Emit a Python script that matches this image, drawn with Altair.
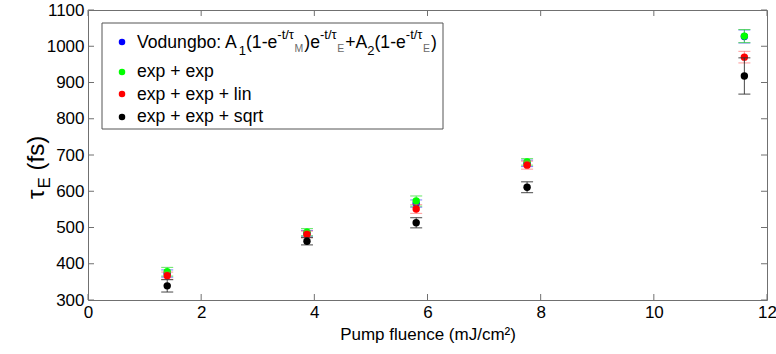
import altair as alt
import pandas as pd

# ---- data ----
fluence = [1.40, 3.87, 5.80, 7.76, 11.60]
series_names = ["Vodungbo", "exp + exp", "exp + exp + lin", "exp + exp + sqrt"]
vodungbo = [373, 484, 566, 677, 1027]
vodungbo_err = [10, 8, 10, 9, 18]
exp_exp = [378, 487, 573, 681, 1028]
exp_exp_err = [12, 10, 14, 9, 18]
exp_lin = [367, 481, 551, 672, 970]
exp_lin_err = [10, 9, 12, 11, 16]
exp_sqrt = [339, 462, 513, 611, 918]
exp_sqrt_err = [17, 10, 14, 15, 50]
x_ticks = [0, 2, 4, 6, 8, 10, 12]
y_ticks = [300, 400, 500, 600, 700, 800, 900, 1000, 1100]

colors = ["#0000ff", "#00ff00", "#ff0000", "#000000"]
bar_colors = ["#4d4dff", "#33dd33", "#ff5555", "#333333"]
bar_opacity = [0.75, 0.75, 0.6, 0.9]

values = [vodungbo, exp_exp, exp_lin, exp_sqrt]
errors = [vodungbo_err, exp_exp_err, exp_lin_err, exp_sqrt_err]
rows = []
for name, vals, errs in zip(series_names, values, errors):
    for f, v, e in zip(fluence, vals, errs):
        rows.append({"series": name, "fluence": f, "tau": v, "lo": v - e, "hi": v + e})
df = pd.DataFrame(rows)

W, H = 679, 290
FONT = "Liberation Sans"
FRAME = "#707070"

xs = alt.Scale(domain=[0, 12], nice=False, zero=False)
ys = alt.Scale(domain=[300, 1100], nice=False, zero=False)
xaxis = alt.Axis(values=x_ticks, format="d", title="Pump fluence (mJ/cm²)")
yaxis = alt.Axis(values=y_ticks, format="d", title=None)


def X(field):
    return alt.X(field, type="quantitative", scale=xs, axis=xaxis)


def Y(field):
    return alt.Y(field, type="quantitative", scale=ys, axis=yaxis)


base = alt.Chart(df)
layers = []
for i, name in enumerate(series_names):
    s = base.transform_filter(alt.datum.series == name)
    bar = s.mark_rule(color=bar_colors[i], opacity=bar_opacity[i], strokeWidth=1).encode(
        x=X("fluence"), y=Y("lo"), y2="hi:Q")
    cap_lo = s.mark_tick(orient="horizontal", size=12, thickness=1,
                         color=bar_colors[i], opacity=bar_opacity[i]).encode(
        x=X("fluence"), y=Y("lo"))
    cap_hi = s.mark_tick(orient="horizontal", size=12, thickness=1,
                         color=bar_colors[i], opacity=bar_opacity[i]).encode(
        x=X("fluence"), y=Y("hi"))
    pts = s.mark_point(filled=True, size=55, opacity=1, color=colors[i]).encode(
        x=X("fluence"), y=Y("tau"))
    layers += [bar, cap_lo, cap_hi, pts]

# inward ticks on all four sides
xt = pd.DataFrame({"xt": x_ticks})
yt = pd.DataFrame({"yt": y_ticks})
tick_x_bottom = alt.Chart(xt).mark_rule(color=FRAME).encode(
    x=X("xt"), y=alt.value(H), y2=alt.value(H - 6))
tick_x_top = alt.Chart(xt).mark_rule(color=FRAME).encode(
    x=X("xt"), y=alt.value(0), y2=alt.value(6))
tick_y_left = alt.Chart(yt).mark_rule(color=FRAME).encode(
    y=Y("yt"), x=alt.value(0), x2=alt.value(6))
tick_y_right = alt.Chart(yt).mark_rule(color=FRAME).encode(
    y=Y("yt"), x=alt.value(W), x2=alt.value(W - 6))

one = pd.DataFrame({"d": [0]})


def txt(s, x, y, size, color="black", angle=0):
    return alt.Chart(one).mark_text(
        align="left", baseline="alphabetic", font=FONT, fontSize=size,
        color=color, angle=angle).encode(
        x=alt.value(x), y=alt.value(y), text=alt.value(s))


# Arial / Liberation Sans advance widths (per em)
ADV = {"V": .667, "o": .556, "d": .556, "u": .556, "n": .556, "g": .556, "b": .556,
       ":": .278, " ": .278, "A": .667, "1": .556, "2": .556, "(": .333, ")": .333,
       "-": .333, "e": .556, "t": .278, "/": .278, "τ": .44, "M": .833, "E": .667,
       "+": .584, "f": .278, "s": .5}


def width(s, size):
    return sum(ADV.get(c, .556) for c in s) * size


# legend box
legend_box = alt.Chart(one).mark_rect(fill="white", stroke="#555555", strokeWidth=1).encode(
    x=alt.value(14), x2=alt.value(355), y=alt.value(13), y2=alt.value(119))
legend_dots = []
for i, yy in enumerate([32, 62, 84, 107]):
    legend_dots.append(alt.Chart(one).mark_point(filled=True, size=42, opacity=1, color=colors[i]).encode(
        x=alt.value(34), y=alt.value(yy)))

MAIN, SUB, SUBSUB = 17.6, 13, 10.5
BL = 38
GRAY = "#6a6a6a"
pieces = [  # text, size, baseline shift, color
    ("Vodungbo: A", MAIN, 0, "black"),
    ("1", SUB, 7, "black"),
    ("(1-e", MAIN, 0, "black"),
    ("-t/τ", SUB, -9, "black"),
    ("M", SUBSUB, 4, GRAY),
    (")e", MAIN, 0, "black"),
    ("-t/τ", SUB, -9, "black"),
    ("E", SUBSUB, 4, GRAY),
    ("+A", MAIN, 0, "black"),
    ("2", SUB, 7, "black"),
    ("(1-e", MAIN, 0, "black"),
    ("-t/τ", SUB, -9, "black"),
    ("E", SUBSUB, 4, GRAY),
    (")", MAIN, 0, "black"),
]
legend_text = []
cx = 49.0
for s, size, dy, col in pieces:
    legend_text.append(txt(s, round(cx, 1), BL + dy, size, col))
    cx += width(s, size) + (1.0 if size == SUBSUB else 0.0)
legend_text += [
    txt("exp + exp", 49, 67, MAIN),
    txt("exp + exp + lin", 49, 90, MAIN),
    txt("exp + exp + sqrt", 49, 112, MAIN),
]

# y-axis title  tau_E (fs), rotated, laid out bottom-to-top
TS, TSUB = 24, 17
tx = 44 - 88
ty = 199 - 10
ytitle = [txt("τ", tx, ty, TS, angle=270)]
ty -= width("τ", TS)
ytitle.append(txt("E", tx + 6, ty, TSUB, angle=270))
ty -= width("E", TSUB) + width(" ", TS)
ytitle.append(txt("(fs)", tx, ty, TS, angle=270))

chart = alt.layer(
    *layers, tick_x_bottom, tick_x_top, tick_y_left, tick_y_right,
    legend_box, *legend_dots, *legend_text, *ytitle
).properties(
    width=W, height=H,
    padding={"left": 88, "top": 10, "right": 9, "bottom": 54},
    autosize=alt.AutoSizeParams(type="none"),
).configure_view(
    stroke=FRAME, strokeWidth=1
).configure_axis(
    domain=False, ticks=False, grid=False,
    labelFont=FONT, labelFontSize=17, labelColor="black",
    labelFlush=False, labelOverlap=False, labelBound=False,
    titleFont=FONT, titleFontSize=17, titleColor="black", titleFontWeight="normal",
).configure_axisX(
    labelPadding=4, titlePadding=6
).configure_axisY(
    labelPadding=4
)

chart.save("out.html", embed_options={"renderer": "svg", "actions": False})
